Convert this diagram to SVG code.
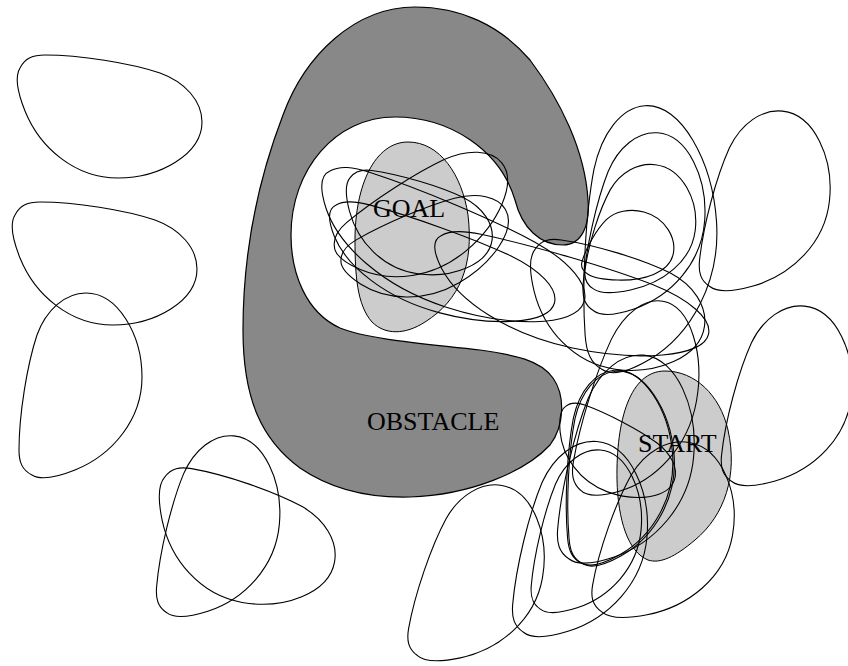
<svg xmlns="http://www.w3.org/2000/svg" xmlns:xlink="http://www.w3.org/1999/xlink" width="848" height="666" viewBox="0 0 848 666">
  <style>
    .obst { fill: #888888; stroke: #000; stroke-width: 1.2; }
    .region { fill: #cccccc; stroke: #000; stroke-width: 1; }
    .pose { fill: none; stroke: #000; stroke-width: 1.1; vector-effect: non-scaling-stroke; }
    .lbl { font-family: "Liberation Serif", "Times New Roman", serif; font-size: 26px; fill: #000; }
  </style>
  <defs>
    <!-- one robot outline, centred on the origin; every pose reuses it -->
    <path id="blob" class="pose" d="M -65,-61 C -30,-61 20,-53 50,-43 C 75,-34 92,-15 92,6 C 92,38 50,62 8,62 C -35,62 -70,32 -85,-5 C -93,-25 -95,-40 -90,-48 C -85,-58 -77,-61 -65,-61 Z"/>
  </defs>

  <rect width="848" height="666" fill="#ffffff"/>

  <g id="obstacle">
    <path class="obst" d="M 415,7 C 355,7 305,55 283,115 C 258,180 243,250 243,330 C 243,400 262,440 300,468 C 335,492 375,498 410,497 C 470,495 525,472 550,445 C 565,425 565,395 553,378 C 540,360 515,355 480,350 C 430,344 370,340 340,328 C 305,312 291,272 291,235 C 291,170 335,117 395,117 C 450,117 500,150 515,200 C 522,228 540,245 563,245 C 582,245 590,225 588,200 C 585,150 560,100 530,60 C 500,25 460,7 415,7 Z"/>
  </g>
  <g id="goal">
    <path class="region" d="M 408,142 C 440,142 462,175 468,215 C 474,265 460,300 425,322 C 405,335 385,335 372,322 C 357,305 355,275 355,240 C 355,185 375,142 408,142 Z"/>
  </g>
  <g id="start">
    <path class="region" d="M 665,371 C 695,371 720,395 728,430 C 738,475 725,515 695,540 C 675,557 660,564 648,560 C 628,552 618,520 617,480 C 616,420 630,371 665,371 Z"/>
  </g>

  <g id="poses" fill="none" stroke="#000">
    <!-- free poses on the left -->
    <use href="#blob" transform="translate(110 116)"/>
    <use href="#blob" transform="translate(105 263)"/>
    <use href="#blob" transform="translate(80 385) rotate(-90)"/>
    <use href="#blob" transform="translate(220 527) rotate(-85) scale(1 0.95)"/>
    <use href="#blob" transform="translate(245 540) rotate(10)"/>
    <use href="#blob" transform="translate(480 575) rotate(-80)"/>
    <!-- free poses on the right -->
    <use href="#blob" transform="translate(767 202) rotate(-84)"/>
    <use href="#blob" transform="translate(789 397) rotate(-84)"/>
    <!-- poses inside the pocket around the goal -->
    <use href="#blob" transform="translate(450 253) rotate(18) scale(1.55 0.85)"/>
    <use href="#blob" transform="translate(418 225) rotate(8) scale(0.82 0.78)"/>
    <use href="#blob" transform="translate(428 218) rotate(-40) scale(1 0.8)"/>
    <use href="#blob" transform="translate(570 300) rotate(12) scale(1.55 0.75)"/>
    <use href="#blob" transform="translate(440 268) rotate(15) scale(1.3 0.7)"/>
    <use href="#blob" transform="translate(430 248) rotate(-30) scale(0.92 0.72)"/>
    <use href="#blob" transform="translate(616 308) rotate(8) scale(0.98 0.98)"/>
    <!-- poses sliding past the upper tip -->
    <use href="#blob" transform="translate(647.4 237.4) rotate(-94) scale(1.43 1.13)"/>
    <use href="#blob" transform="translate(645.4 224.2) rotate(-86) scale(1 0.95)"/>
    <use href="#blob" transform="translate(642.2 229.8) rotate(-83) scale(0.72 0.85)"/>
    <use href="#blob" transform="translate(630.1 247.3) rotate(-75) scale(0.41 0.7)"/>
    <!-- poses around the start -->
    <use href="#blob" transform="translate(617 466) rotate(-95) scale(1.04 0.91)"/>
    <use href="#blob" transform="translate(618.5 467) rotate(-95) scale(1.04 0.91)"/>
    <use href="#blob" transform="translate(667 532) rotate(-80) scale(1 1.05)"/>
    <use href="#blob" transform="translate(628 460) rotate(-85) scale(1.15 1.05)"/>
    <use href="#blob" transform="translate(582 540) rotate(-85) scale(1.08 1.04)"/>
    <use href="#blob" transform="translate(588 532) rotate(-85) scale(0.9 0.85)"/>
    <use href="#blob" transform="translate(615 455) rotate(20) scale(0.7 0.6)"/>
    <use href="#blob" transform="translate(640 400) rotate(-80) scale(1.1 0.9)"/>
  </g>

  <g id="labels">
    <text class="lbl" x="373" y="217">GOAL</text>
    <text class="lbl" x="367" y="430">OBSTACLE</text>
    <text class="lbl" x="638" y="452">START</text>
  </g>
</svg>
